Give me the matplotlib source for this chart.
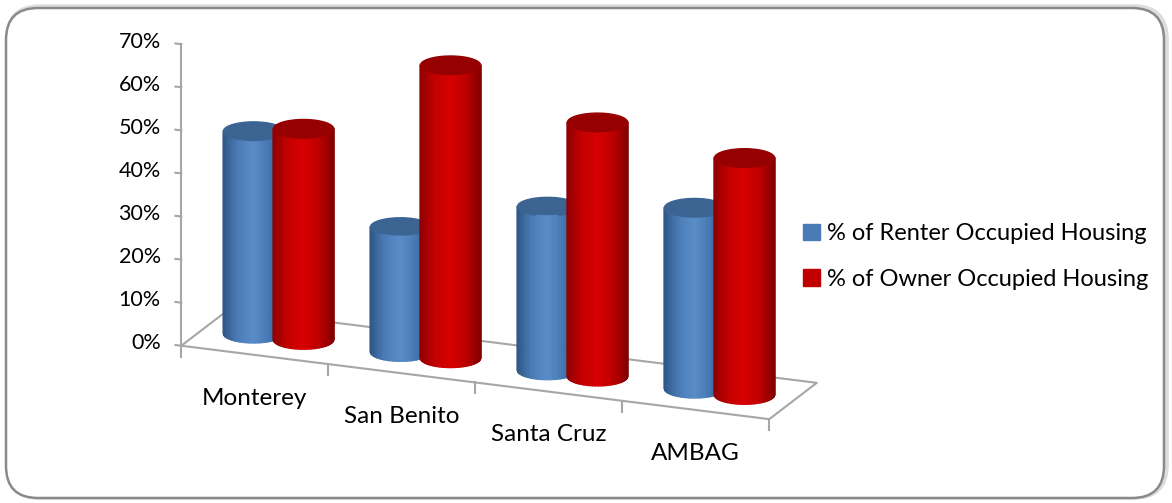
import numpy as np
import matplotlib
matplotlib.use('Agg')
import matplotlib.pyplot as plt
from matplotlib.colors import LinearSegmentedColormap
from matplotlib.patches import FancyBboxPatch, Patch
from mpl_toolkits.mplot3d.art3d import Poly3DCollection

categories = ['Monterey', 'San Benito', 'Santa Cruz', 'AMBAG']
renter = [47, 29, 38, 42]
owner = [49, 68, 59, 55]
series_names = ['% of Renter Occupied Housing', '% of Owner Occupied Housing']
y_ticks = [0, 10, 20, 30, 40, 50, 60, 70]

plt.rcParams['font.family'] = ['Lato', 'DejaVu Sans']

ELEV, AZIM = 18, -68
DEPTH = 0.8
RADIUS = 0.19
OFFSET = 0.17

blue_cmap = LinearSegmentedColormap.from_list(
    'blue_cyl', ['#2f5685', '#4b7cb8', '#5a8cc8', '#4577b2', '#2c4f7c'])
red_cmap = LinearSegmentedColormap.from_list(
    'red_cyl', ['#8e0000', '#c40000', '#d60000', '#bb0000', '#7e0000'])


def cylinder(ax, xc, yc, h, cmap, top_color, z):
    a = np.linspace(0, 2 * np.pi, 61)
    az = np.radians(AZIM)
    polys, cols = [], []
    for a0, a1 in zip(a[:-1], a[1:]):
        am = (a0 + a1) / 2
        if np.cos(am - az) < -0.1:
            continue  # back side, hidden
        u = np.clip(np.sin(am - az), -1, 1)
        p0 = (xc + RADIUS * np.cos(a0), yc + RADIUS * np.sin(a0))
        p1 = (xc + RADIUS * np.cos(a1), yc + RADIUS * np.sin(a1))
        polys.append([(p0[0], p0[1], 0), (p1[0], p1[1], 0),
                      (p1[0], p1[1], h), (p0[0], p0[1], h)])
        cols.append(cmap((u + 1) / 2))
    cap = [(xc + RADIUS * np.cos(t), yc + RADIUS * np.sin(t), h) for t in a]
    polys.append(cap)
    cols.append(top_color)
    pc = Poly3DCollection(polys, facecolors=cols, edgecolors=cols,
                          linewidths=1.0, zorder=z)
    pc.set_clip_on(False)
    ax.add_collection3d(pc)


fig = plt.figure(figsize=(11.72, 5.03), dpi=100)

# rounded frame with a soft shadow
shadow = FancyBboxPatch((0.08, 0.06), 11.58, 4.9,
                        boxstyle='round,pad=0,rounding_size=0.32',
                        transform=fig.dpi_scale_trans, fc='none',
                        ec='#dddddd', lw=4, zorder=-10)
frame = FancyBboxPatch((0.06, 0.05), 11.58, 4.9,
                       boxstyle='round,pad=0,rounding_size=0.32',
                       transform=fig.dpi_scale_trans, fc='white',
                       ec='#8a8a8a', lw=1.8, zorder=-9)
fig.patches.extend([shadow, frame])

ax = fig.add_axes([0.0, 0.062, 0.84, 1.0], projection='3d')
ax.set_proj_type('ortho')
ax.view_init(elev=ELEV, azim=AZIM)
ax.set_xlim(0, 4)
ax.set_ylim(0, DEPTH)
ax.set_zlim(0, 70)
ax.set_xticks([])
ax.set_yticks([])
ax.set_zticks([])
ax.set_box_aspect((4, DEPTH, 2.0), zoom=1.39)
ax.set_axis_off()
ax.computed_zorder = False
ax.patch.set_alpha(0)

axis_col = '#a6a6a6'
line_kw = dict(color=axis_col, lw=1.5, zorder=1, clip_on=False)
# floor outline
ax.plot([0, 4, 4, 0, 0], [0, 0, DEPTH, DEPTH, 0], [0, 0, 0, 0, 0], **line_kw)
# category ticks
for i in range(len(categories) + 1):
    ax.plot([i, i], [0, 0], [0, -2.5], **line_kw)
# value axis
ax.plot([0, 0], [0, 0], [0, 70], **line_kw)
for v in y_ticks:
    ax.plot([0, -0.04], [0, 0], [v, v], **line_kw)
    ax.text(-0.14, 0, v, f'{v}%', ha='right', va='center', fontsize=15.5)

for i, name in enumerate(categories):
    ax.text(i + 0.5, 0, -10, name, ha='center', va='center', fontsize=17.5)

z = 2
for i in range(len(categories)):
    cylinder(ax, i + 0.5 - OFFSET, DEPTH / 2, renter[i], blue_cmap, '#3c6492', z)
    cylinder(ax, i + 0.5 + OFFSET, DEPTH / 2, owner[i], red_cmap, '#960000', z + 1)
    z += 2

handles = [Patch(color='#4a7ab5'), Patch(color='#c00000')]
fig.legend(handles, series_names, loc='center left',
           bbox_to_anchor=(0.667, 0.49), frameon=False, fontsize=17,
           handlelength=0.7, handleheight=0.7, handletextpad=0.3,
           labelspacing=1.05)

fig.savefig('out.png', dpi=100)
